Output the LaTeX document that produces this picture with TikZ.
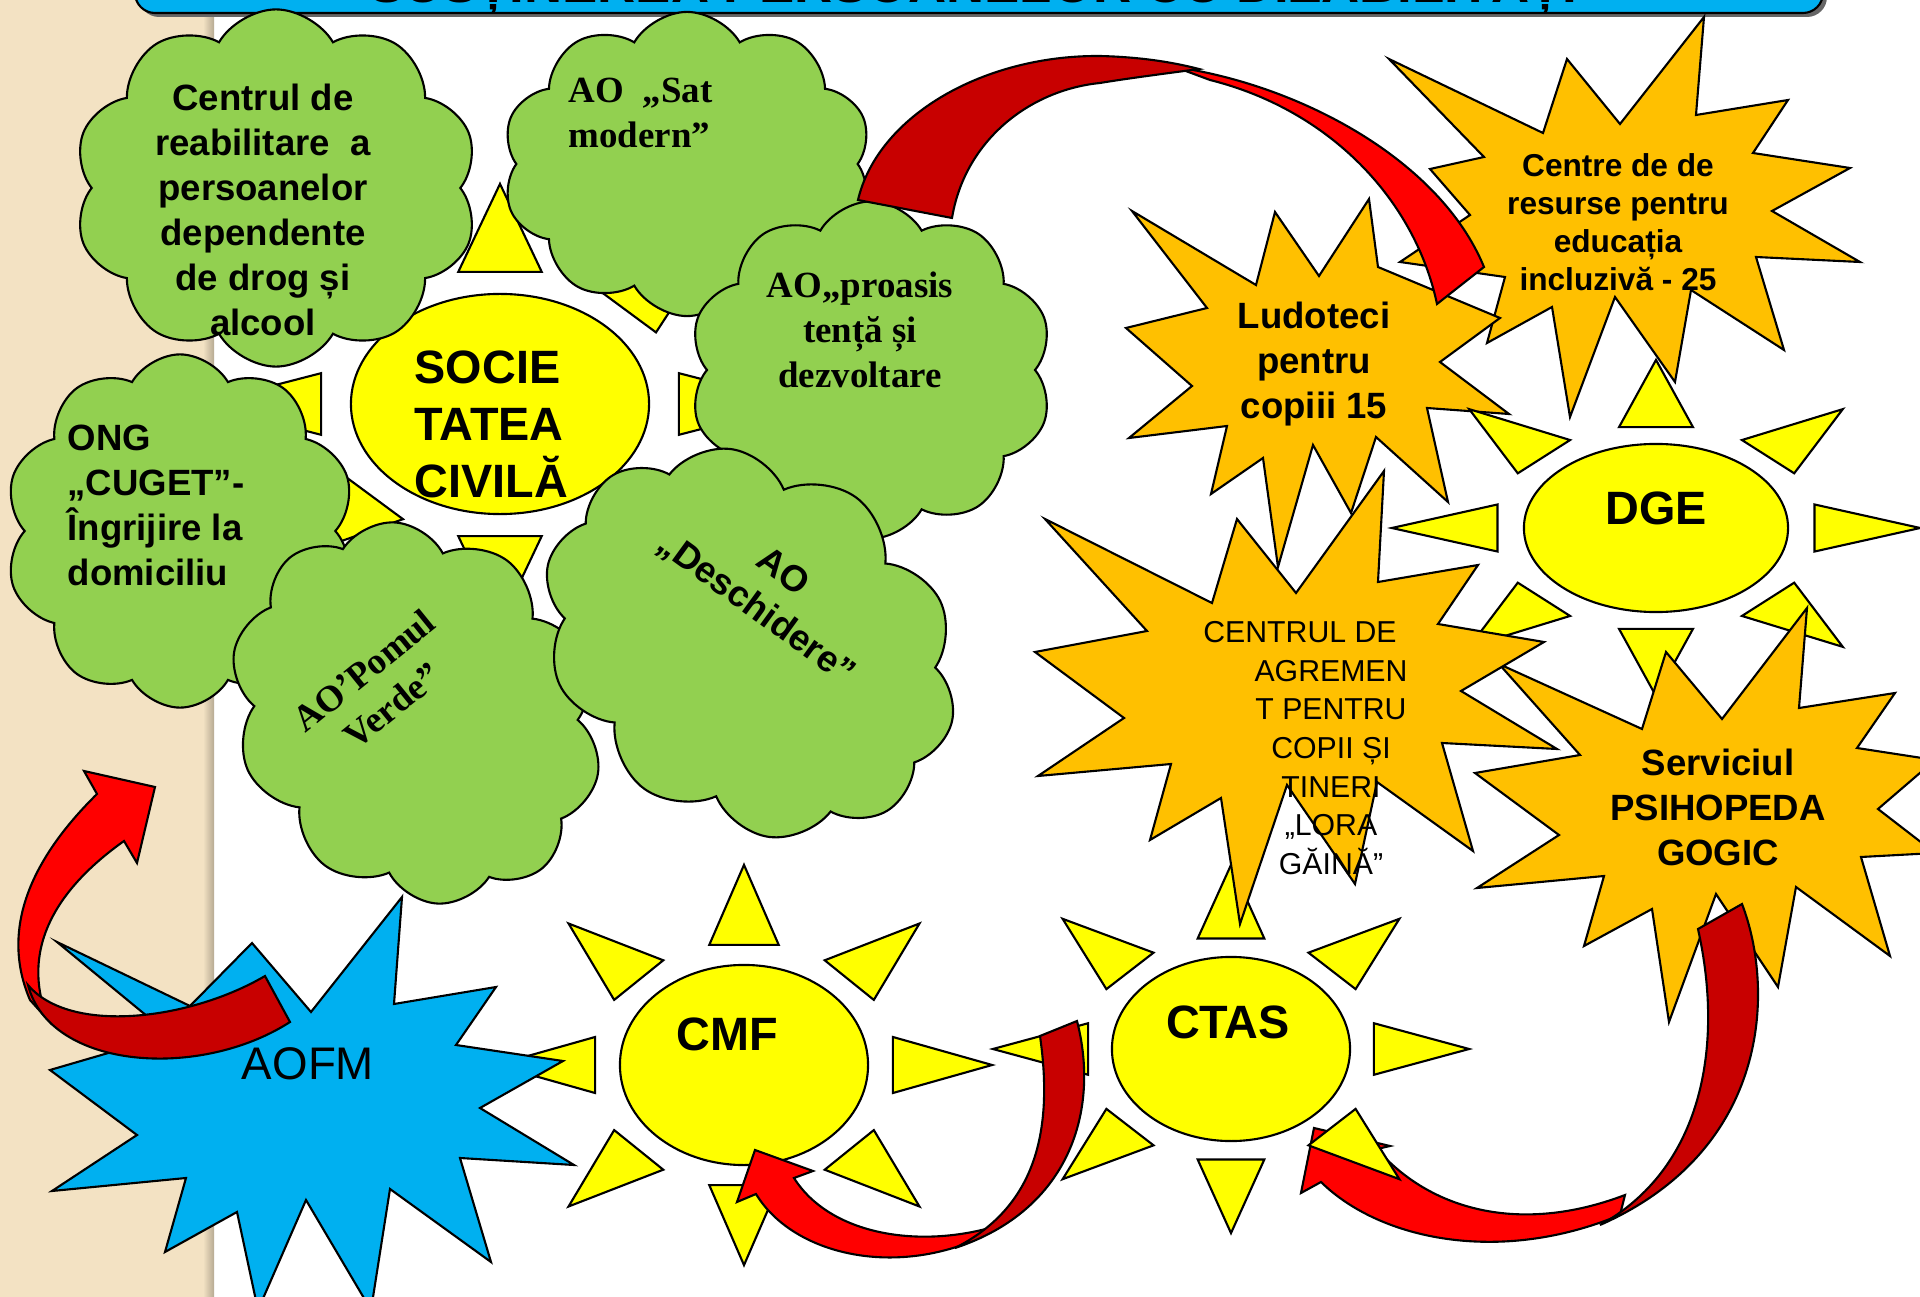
\documentclass[tikz,border=0pt]{standalone}
\usepackage{fontspec}
\setmainfont{Liberation Serif}
\setsansfont{Liberation Sans}
\usepackage{tikz}
\usetikzlibrary{shapes.geometric,shapes.symbols}

\definecolor{sunyellow}{RGB}{255,255,0}
\definecolor{cloudgreen}{RGB}{146,208,80}
\definecolor{burstorange}{RGB}{255,192,0}
\definecolor{skyblue}{RGB}{0,176,240}
\definecolor{ribbonred}{RGB}{255,0,0}
\definecolor{ribbondark}{RGB}{200,0,0}
\definecolor{sand}{RGB}{243,226,195}

\newcommand{\sunshape}[5]{%
    \begin{scope}[shift={(#2,#3)}, x=#4cm, y=-#5cm]
        \foreach \ang in {0,45,...,315}
            \filldraw[sunray] ({cos(\ang)},{sin(\ang)}) -- ({0.6*cos(\ang)-0.14*sin(\ang)},{0.6*sin(\ang)+0.14*cos(\ang)}) -- ({0.6*cos(\ang)+0.14*sin(\ang)},{0.6*sin(\ang)-0.14*cos(\ang)}) -- cycle;
    \end{scope}
    \node[sunbody, minimum width=#4cm, minimum height=#5cm] (#1) at (#2,#3) {};
}

\begin{document}
\begin{tikzpicture}[x=0.01cm, y=-0.01cm,
    sunray/.style={fill=sunyellow, draw=black, line width=0.6pt},
    sunbody/.style={ellipse, fill=sunyellow, draw=black, line width=0.6pt, inner sep=0pt},
    cloudbox/.style={cloud, cloud puffs=10, cloud puff arc=120, cloud ignores aspect, fill=cloudgreen, draw=black, line width=0.6pt, inner sep=0pt},
    burst/.style={fill=burstorange, draw=black, line width=0.6pt},
    ribbon/.style={draw=black, line width=0.6pt},
    armtxt/.style={font=\sffamily\bfseries\fontsize{10.4}{12.8}\selectfont, inner sep=0pt},
    romtxt/.style={font=\rmfamily\bfseries\fontsize{10.5}{12.8}\selectfont, inner sep=0pt},
    suntxt/.style={font=\sffamily\bfseries\fontsize{13.3}{16.2}\selectfont, inner sep=0pt}]

    \useasboundingbox (0,0) rectangle (1920,1297);
    \clip (0,0) rectangle (1920,1297);
    \fill[white] (0,0) rectangle (1920,1297);
    \fill[sand] (0,0) rectangle (213,1297);
    \shade[left color=sand, right color=sand!75!black] (203,0) rectangle (214,1297);

    \fill[black!60, rounded corners=0.2cm] (139,-60) rectangle (1827,17);
    \filldraw[fill=skyblue, draw=black, line width=0.6pt, rounded corners=0.2cm] (135,-60) rectangle (1823,13);
    \node[font=\sffamily\bfseries\fontsize{15}{18}\selectfont, anchor=base, inner sep=0pt] (title) at (973,3) {SUSȚINEREA PERSOANELOR CU DIZABILITĂȚI};

    \sunshape{soc}{500}{404}{2.98}{2.20}
    \node[suntxt, align=left, anchor=west] (soctxt) at (414,424) {SOCIE\\TATEA\\CIVILĂ};

    \node[cloudbox, minimum width=4.05cm, minimum height=3.57cm] (drog) at (276,188) {};
    \node[armtxt, align=center] (drogtxt) at (263,210) {Centrul de\\reabilitare~ a\\persoanelor\\dependente\\de drog și\\alcool};
    \node[cloudbox, minimum width=3.7cm, minimum height=3.04cm] (sat) at (687,164) {};
    \node[romtxt, align=left, anchor=west] (sattxt) at (568,113) {AO~ „Sat\\modern”};
    \node[cloudbox, minimum width=3.51cm, minimum height=3.53cm] (cuget) at (180,531) {};
    \node[armtxt, align=left, anchor=west] (cugettxt) at (67,505) {ONG\\„CUGET”-\\Îngrijire la\\domiciliu};
    \node[cloudbox, minimum width=3.64cm, minimum height=3.37cm] (proasis) at (871,370) {};
    \node[romtxt, align=center] (proasistxt) at (860,330) {AO„proasis\\tență și\\dezvoltare};
    \node[cloudbox, minimum width=3.5cm, minimum height=4cm, rotate=39] (pomul) at (416,713) {};
    \node[romtxt, align=center, rotate=39] (pomultxt) at (378,688) {AO’Pomul\\Verde”};
    \node[cloudbox, minimum width=4.4cm, minimum height=3.6cm, rotate=-36] (deschid) at (750,643) {};
    \node[armtxt, align=center, rotate=-36] (deschidtxt) at (769,591) {AO\\„Deschidere”};

    \filldraw[burst] (1389,59) -- (1543,133) -- (1567,59) -- (1620,124) -- (1704,17) -- (1696,115) -- (1788,100) -- (1753,153) -- (1850,168) -- (1772,211) -- (1860,262) -- (1756,257) -- (1784,350) -- (1691,290) -- (1675,382) -- (1615,297) -- (1570,417) -- (1552,307) -- (1487,343) -- (1505,277) -- (1400,262) -- (1470,215) -- (1430,169) -- (1484,157) -- cycle;
    \node[armtxt, align=center, font=\sffamily\bfseries\fontsize{9}{10.8}\selectfont] (resursetxt) at (1618,222) {Centre de de\\resurse pentru\\educația\\incluzivă - 25};
    \filldraw[burst] (1126,328) -- (1207,308) -- (1132,211) -- (1256,285) -- (1275,212) -- (1319,276) -- (1369,199) -- (1378,267) -- (1500,318) -- (1440,362) -- (1509,414) -- (1427,408) -- (1448,502) -- (1376,437) -- (1351,513) -- (1313,445) -- (1278,567) -- (1263,458) -- (1211,494) -- (1227,426) -- (1129,438) -- (1192,386) -- cycle;
    \node[armtxt, align=center] (ludotxt) at (1314,364) {Ludoteci\\pentru\\copiii 15};

    \filldraw[ribbon, fill=ribbonred] (1175,67) .. controls (1300,85) and (1440,160) .. (1484,267) -- (1437,304) .. controls (1415,200) and (1330,110) .. (1210,80) -- cycle;
    \filldraw[ribbon, fill=ribbondark] (858,200) .. controls (878,115) and (985,55) .. (1100,56) .. controls (1140,57) and (1172,62) .. (1199,69) .. controls (1170,73) and (1130,78) .. (1100,83) .. controls (1030,90) and (965,140) .. (952,218) -- cycle;

    \sunshape{dge}{1656}{528}{2.64}{1.68}
    \node[suntxt] (dgetxt) at (1656,508) {DGE};

    \filldraw[burst] (1807,608) -- (1799,708) -- (1895,693) -- (1857,748) -- (1935,760) -- (1878,809) -- (1935,853) -- (1861,857) -- (1890,956) -- (1796,887) -- (1778,987) -- (1716,894) -- (1669,1022) -- (1652,909) -- (1584,946) -- (1604,876) -- (1477,888) -- (1559,835) -- (1475,773) -- (1580,755) -- (1499,664) -- (1642,729) -- (1666,652) -- (1722,719) -- cycle;
    \node[armtxt, align=center] (psihotxt) at (1718,807) {Serviciul\\PSIHOPEDA\\GOGIC};

    \filldraw[ribbon, fill=ribbonred] (1620,1215) .. controls (1500,1265) and (1380,1240) .. (1321,1182) -- (1301,1193) -- (1314,1128) -- (1390,1146) -- (1377,1149) .. controls (1430,1210) and (1520,1235) .. (1625,1195) -- cycle;
    \filldraw[ribbon, fill=ribbondark] (1698,929) -- (1742,904) .. controls (1775,990) and (1770,1150) .. (1600,1225) .. controls (1700,1170) and (1725,1050) .. (1698,929) -- cycle;

    \sunshape{ctas}{1231}{1049}{2.38}{1.84}
    \node[suntxt] (ctastxt) at (1228,1022) {CTAS};

    \filldraw[burst] (1045,519) -- (1212,603) -- (1237,519) -- (1296,593) -- (1384,471) -- (1378,582) -- (1478,565) -- (1438,624) -- (1544,642) -- (1461,691) -- (1557,749) -- (1442,743) -- (1473,851) -- (1377,782) -- (1355,884) -- (1287,785) -- (1240,924) -- (1221,798) -- (1150,840) -- (1171,764) -- (1038,776) -- (1124,718) -- (1035,652) -- (1147,631) -- cycle;
    \node[align=center, inner sep=0pt, font=\sffamily\fontsize{8.6}{11}\selectfont] (agrementxt) at (1331,748) {CENTRUL DE\hspace*{0.62cm}\\AGREMEN\\T PENTRU\\COPII ȘI\\TINERI\\„LORA\\GĂINĂ”};

    \sunshape{cmf}{744}{1065}{2.48}{2.00}
    \node[suntxt] (cmftxt) at (727,1034) {CMF};

    \filldraw[ribbon, fill=ribbonred] (965,1244) .. controls (880,1275) and (790,1250) .. (756,1194) -- (737,1202) -- (755,1150) -- (813,1171) -- (794,1178) .. controls (830,1235) and (920,1250) .. (1000,1225) -- cycle;
    \filldraw[ribbon, fill=ribbondark] (1040,1036) -- (1077,1021) .. controls (1100,1110) and (1070,1210) .. (955,1248) .. controls (1030,1210) and (1055,1140) .. (1040,1036) -- cycle;

    \filldraw[fill=skyblue, draw=black, line width=0.6pt] (402,897) -- (394,1004) -- (496,987) -- (456,1045) -- (563,1061) -- (480,1108) -- (574,1165) -- (460,1158) -- (491,1262) -- (390,1189) -- (371,1310) -- (306,1200) -- (258,1310) -- (237,1212) -- (165,1252) -- (186,1178) -- (52,1191) -- (137,1135) -- (50,1070) -- (170,1035) -- (57,942) -- (190,1006) -- (252,943) -- (311,1012) -- cycle;
    \node[font=\sffamily\fontsize{13}{15.6}\selectfont, inner sep=0pt] (aofmtxt) at (308,1064) {AOFM};

    \filldraw[ribbon, fill=ribbonred] (30,1000) .. controls (0,930) and (30,860) .. (97,794) -- (84,771) -- (155,787) -- (137,863) -- (124,841) .. controls (55,890) and (20,950) .. (48,1020) -- cycle;
    \filldraw[ribbon, fill=ribbondark] (265,976) -- (290,1022) .. controls (200,1080) and (50,1070) .. (28,985) .. controls (70,1035) and (190,1020) .. (265,976) -- cycle;
\end{tikzpicture}
\end{document}
